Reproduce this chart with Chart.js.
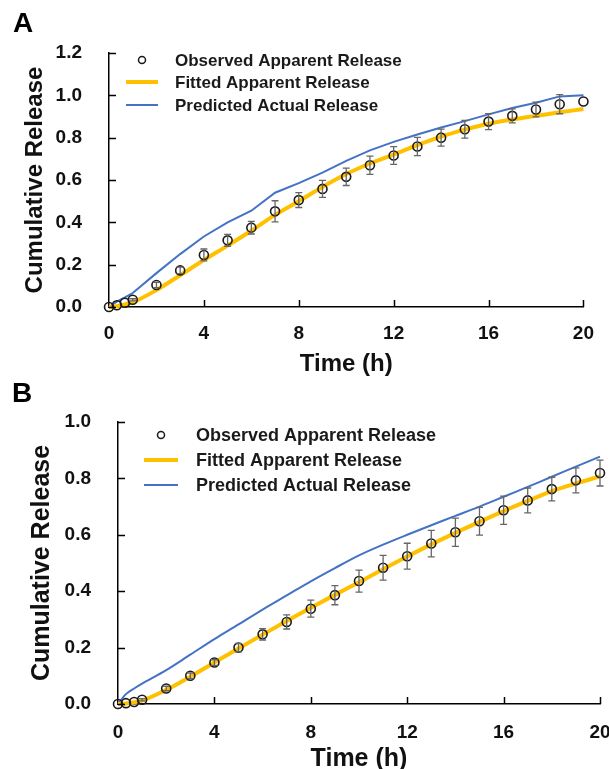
<!DOCTYPE html>
<html>
<head>
<meta charset="utf-8">
<script src="https://cdn.jsdelivr.net/npm/chart.js@4.4.0/dist/chart.umd.min.js"></script>
<style>
  html, body { margin: 0; padding: 0; background: #fff; overflow: hidden; width: 609px; height: 769px; }
  .panel { position: absolute; left: 0; }
  #wrapA { top: 0; }
  #wrapB { top: 380px; }
  .letter { position: absolute; font: bold 28px "Liberation Sans", Arial, sans-serif; line-height: 28px; color: #000; }
</style>
</head>
<body>
<div id="wrapA" class="panel"><canvas id="chartA" width="609" height="380"></canvas></div>
<div id="wrapB" class="panel"><canvas id="chartB" width="640" height="400"></canvas></div>
<div class="letter" style="left:13px; top:9px;">A</div>
<div class="letter" style="left:12px; top:379px;">B</div>

<script>
// ====== Data ======
const timeH = [0, 0.33, 0.67, 1, 2, 3, 4, 5, 6, 7, 8, 9, 10, 11, 12, 13, 14, 15, 16, 17, 18, 19, 20];

const observedA  = [0, 0.008, 0.02, 0.034, 0.104, 0.173, 0.246, 0.315, 0.375, 0.452, 0.505, 0.558, 0.615, 0.67, 0.716, 0.758, 0.80, 0.84, 0.876, 0.903, 0.933, 0.958, 0.971];
const errorA     = [0, 0, 0, 0.005, 0.012, 0.015, 0.028, 0.028, 0.03, 0.05, 0.035, 0.04, 0.041, 0.043, 0.042, 0.043, 0.04, 0.042, 0.038, 0.033, 0.035, 0.045, 0];
const fittedA    = [0, 0.004, 0.012, 0.022, 0.08, 0.15, 0.222, 0.29, 0.36, 0.435, 0.50, 0.567, 0.628, 0.678, 0.72, 0.765, 0.805, 0.838, 0.866, 0.886, 0.903, 0.92, 0.935];
const predictedA = [0, 0.025, 0.045, 0.066, 0.16, 0.25, 0.333, 0.40, 0.455, 0.54, 0.585, 0.635, 0.69, 0.74, 0.78, 0.815, 0.848, 0.878, 0.91, 0.94, 0.965, 0.995, 1.0];

const observedB  = [0, 0.003, 0.007, 0.015, 0.055, 0.10, 0.147, 0.20, 0.247, 0.291, 0.338, 0.386, 0.436, 0.483, 0.524, 0.569, 0.609, 0.648, 0.687, 0.722, 0.762, 0.793, 0.819];
const errorB     = [0, 0, 0, 0.004, 0.008, 0.01, 0.01, 0.015, 0.02, 0.025, 0.03, 0.034, 0.039, 0.044, 0.046, 0.047, 0.05, 0.049, 0.05, 0.044, 0.042, 0.044, 0.046];
const fittedB    = [0, 0.002, 0.006, 0.012, 0.05, 0.097, 0.147, 0.197, 0.246, 0.294, 0.341, 0.387, 0.432, 0.478, 0.523, 0.566, 0.607, 0.646, 0.684, 0.72, 0.755, 0.782, 0.807];
const predictedB = [0, 0.035, 0.055, 0.072, 0.12, 0.175, 0.23, 0.282, 0.335, 0.385, 0.435, 0.482, 0.527, 0.565, 0.60, 0.634, 0.667, 0.70, 0.735, 0.77, 0.806, 0.842, 0.877];

const legendLabels = ["Observed Apparent Release", "Fitted Apparent Release", "Predicted Actual Release"];
const xTitle = "Time (h)";
const yTitle = "Cumulative Release";

const FONT = '"Liberation Sans", Arial, sans-serif';
const ORANGE = "#FFC000";
const BLUE = "#4472C4";

function toPoints(values) {
  return timeH.map((t, i) => ({ x: t, y: values[i] }));
}

// ====== Plugin: error bars, inward ticks, legend ======
const panelDecor = {
  id: "panelDecor",
  afterDatasetsDraw(chart, args, opts) {
    const ctx = chart.ctx;
    const xs = chart.scales.x;
    const ys = chart.scales.y;

    ctx.save();
    ctx.strokeStyle = "#666";
    ctx.lineWidth = 1.3;
    opts.errors.forEach((e, i) => {
      if (!e) return;
      const px = xs.getPixelForValue(timeH[i]);
      const top = ys.getPixelForValue(opts.observed[i] + e);
      const bot = ys.getPixelForValue(opts.observed[i] - e);
      ctx.beginPath();
      ctx.moveTo(px, top); ctx.lineTo(px, bot);
      ctx.moveTo(px - 3.5, top); ctx.lineTo(px + 3.5, top);
      ctx.moveTo(px - 3.5, bot); ctx.lineTo(px + 3.5, bot);
      ctx.stroke();
    });
    ctx.restore();
  },
  afterDraw(chart, args, opts) {
    const ctx = chart.ctx;
    const xs = chart.scales.x;
    const ys = chart.scales.y;

    // inward tick marks
    ctx.save();
    ctx.strokeStyle = "#000";
    ctx.lineWidth = 1.5;
    ctx.beginPath();
    ys.ticks.forEach(t => {
      const py = Math.round(ys.getPixelForValue(t.value)) + 0.5;
      ctx.moveTo(xs.left, py);
      ctx.lineTo(xs.left + 7, py);
    });
    xs.ticks.forEach(t => {
      if (t.value === 0) return;
      const px = Math.round(xs.getPixelForValue(t.value)) + 0.5;
      ctx.moveTo(px, ys.bottom);
      ctx.lineTo(px, ys.bottom - 7);
    });
    ctx.stroke();

    // legend
    const lg = opts.legend;
    const mid = (lg.x0 + lg.x1) / 2;
    ctx.lineWidth = 1.5;
    ctx.strokeStyle = "#1a1a1a";
    ctx.beginPath();
    ctx.arc(mid, lg.rows[0], 3.5, 0, Math.PI * 2);
    ctx.stroke();

    ctx.lineCap = "butt";
    ctx.strokeStyle = ORANGE;
    ctx.lineWidth = 4;
    ctx.beginPath();
    ctx.moveTo(lg.x0, lg.rows[1]); ctx.lineTo(lg.x1, lg.rows[1]);
    ctx.stroke();

    ctx.strokeStyle = BLUE;
    ctx.lineWidth = 2;
    ctx.beginPath();
    ctx.moveTo(lg.x0, lg.rows[2]); ctx.lineTo(lg.x1, lg.rows[2]);
    ctx.stroke();

    ctx.fillStyle = "#1a1a1a";
    ctx.font = `bold ${lg.size}px ${FONT}`;
    ctx.textBaseline = "middle";
    ctx.textAlign = "left";
    legendLabels.forEach((label, i) => ctx.fillText(label, lg.textX, lg.rows[i] + 1));
    ctx.restore();
  }
};

// ====== Build one panel ======
function makePanel(canvasId, p) {
  const ctx = document.getElementById(canvasId).getContext("2d");
  return new Chart(ctx, {
    type: "scatter",
    data: {
      datasets: [
        {
          label: legendLabels[0],
          data: toPoints(p.observed),
          pointRadius: 4.5,
          pointBorderWidth: 1.6,
          pointBorderColor: "#1a1a1a",
          pointBackgroundColor: "rgba(255,255,255,0)",
          showLine: false,
          clip: false,
          order: 0
        },
        {
          label: legendLabels[1],
          data: toPoints(p.fitted),
          showLine: true,
          borderColor: ORANGE,
          borderWidth: 4,
          pointRadius: 0,
          cubicInterpolationMode: "monotone",
          clip: false,
          order: 1
        },
        {
          label: legendLabels[2],
          data: toPoints(p.predicted),
          showLine: true,
          borderColor: BLUE,
          borderWidth: 2,
          pointRadius: 0,
          tension: p.blueTension,
          clip: false,
          order: 2
        }
      ]
    },
    options: {
      responsive: false,
      animation: false,
      layout: { padding: { left: 0, right: p.padRight, top: p.padTop, bottom: 0 } },
      plugins: {
        legend: { display: false },
        tooltip: { enabled: false },
        panelDecor: { observed: p.observed, errors: p.errors, legend: p.legend }
      },
      scales: {
        x: {
          type: "linear",
          min: 0,
          max: 20,
          afterFit: s => { s.height = p.xHeight; },
          ticks: {
            stepSize: 4,
            padding: p.xTickPad,
            color: "#111",
            font: { family: FONT, size: p.tickSize, weight: "bold" }
          },
          grid: { display: true, drawOnChartArea: false, drawTicks: false },
          border: { display: true, color: "#000", width: 1.5 },
          title: {
            display: true,
            text: xTitle,
            color: "#111",
            padding: { top: 0, bottom: p.xTitlePad },
            font: { family: FONT, size: p.titleSize, weight: "bold" }
          }
        },
        y: {
          type: "linear",
          min: 0,
          max: p.yMax,
          afterFit: s => { s.width = p.yWidth; },
          ticks: {
            stepSize: 0.2,
            padding: p.yTickPad,
            color: "#111",
            font: { family: FONT, size: p.tickSize, weight: "bold" },
            callback: v => v.toFixed(1)
          },
          grid: { display: true, drawOnChartArea: false, drawTicks: false },
          border: { display: true, color: "#000", width: 1.5 },
          title: {
            display: true,
            text: yTitle,
            color: "#111",
            padding: { top: p.yTitlePad, bottom: 0 },
            font: { family: FONT, size: p.titleSize, weight: "bold" }
          }
        }
      }
    },
    plugins: [panelDecor]
  });
}

// ====== Panels ======
makePanel("chartA", {
  observed: observedA, errors: errorA, fitted: fittedA, predicted: predictedA,
  yMax: 1.2, blueTension: 0,
  padRight: 21, padTop: 53, xHeight: 73, yWidth: 109,
  tickSize: 19, titleSize: 24,
  xTickPad: 15, yTickPad: 27, xTitlePad: 1, yTitlePad: 21,
  legend: { x0: 126, x1: 158, textX: 175, rows: [60, 82, 105], size: 17 }
});

makePanel("chartB", {
  observed: observedB, errors: errorB, fitted: fittedB, predicted: predictedB,
  yMax: 1.0, blueTension: 0.3,
  padRight: 40, padTop: 42, xHeight: 76, yWidth: 118,
  tickSize: 19, titleSize: 25,
  xTickPad: 17, yTickPad: 27, xTitlePad: 6, yTitlePad: 27,
  legend: { x0: 144, x1: 178, textX: 196, rows: [55, 80, 105], size: 18 }
});
</script>
</body>
</html>
